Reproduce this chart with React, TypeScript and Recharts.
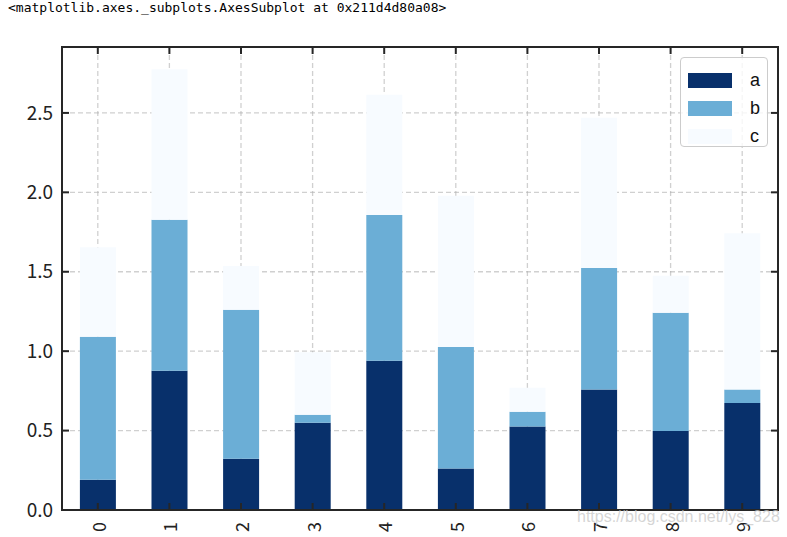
import React from "react";
import { BarChart, Bar, XAxis, YAxis, CartesianGrid, Legend, ReferenceArea } from "recharts";

const categories = ["0", "1", "2", "3", "4", "5", "6", "7", "8", "9"];
const seriesA = [0.19, 0.877, 0.322, 0.55, 0.94, 0.261, 0.525, 0.758, 0.498, 0.674];
const seriesB = [0.9, 0.95, 0.939, 0.049, 0.917, 0.765, 0.094, 0.765, 0.744, 0.084];
const seriesC = [0.565, 0.948, 0.275, 0.394, 0.758, 0.952, 0.151, 0.946, 0.233, 0.985];
const yTicks = [0, 0.5, 1, 1.5, 2, 2.5];
const yMax = 2.915;

const seriesKeys = ["a", "b", "c"];
const seriesColors = ["#08306b", "#6baed6", "#f7fbff"];

const data = categories.map((name, i) => ({
  name,
  a: seriesA[i],
  b: seriesB[i],
  c: seriesC[i],
}));

const labelFont = "'Noto Sans CJK SC', 'DejaVu Sans', sans-serif";
const frame = "#262626";

const XTick = (props: any) => {
  const { x, y, payload } = props;
  return (
    <text
      x={x}
      y={y}
      transform={`rotate(-90, ${x}, ${y})`}
      textAnchor="end"
      dominantBaseline="central"
      fontSize={18}
      fontFamily={labelFont}
      fill="#222"
    >
      {payload.value}
    </text>
  );
};

// tick={false} also drops the tick lines, so an empty label is used instead
const NoTick = () => <g />;

const LegendBox = () => (
  <div
    style={{
      width: 88,
      height: 90,
      boxSizing: "border-box",
      border: "1px solid #cccccc",
      borderRadius: 4,
      background: "rgba(255,255,255,0.8)",
      paddingTop: 8,
      fontFamily: "'Liberation Sans', Arial, sans-serif",
      fontSize: 18,
      color: "#111",
    }}
  >
    {seriesKeys.map((k, i) => (
      <div
        key={k}
        style={{ display: "flex", alignItems: "center", height: 28 }}
      >
        <div
          style={{
            marginLeft: 7,
            width: 44,
            height: 15,
            background: seriesColors[i],
          }}
        />
        <span style={{ marginLeft: 18 }}>{k}</span>
      </div>
    ))}
  </div>
);

export default function App() {
  return (
    <div
      style={{
        position: "absolute",
        left: 0,
        top: 0,
        width: 787,
        height: 537,
        background: "#fff",
      }}
    >
      <div
        style={{
          position: "absolute",
          left: 8,
          top: 0,
          fontFamily: "'DejaVu Sans Mono', 'Liberation Mono', monospace",
          fontSize: 13,
          lineHeight: "15px",
          color: "#000",
          whiteSpace: "pre",
        }}
      >
        {"<matplotlib.axes._subplots.AxesSubplot at 0x211d4d80a08>"}
      </div>
      <BarChart
        width={787}
        height={537}
        data={data}
        margin={{ top: 46, right: 8, left: 0, bottom: 0 }}
        barCategoryGap="25%"
      >
        {seriesKeys.map((k, i) => (
          <Bar
            key={k}
            dataKey={k}
            stackId="s"
            fill={seriesColors[i]}
            xAxisId="x"
            yAxisId="y"
            isAnimationActive={false}
          />
        ))}
        <CartesianGrid
          xAxisId="x"
          yAxisId="y"
          stroke="#b0b0b0"
          strokeOpacity={0.6}
          strokeWidth={1.3}
          strokeDasharray="5 3"
        />
        <ReferenceArea
          xAxisId="x"
          yAxisId="y"
          y1={0}
          y2={yMax}
          fill="none"
          fillOpacity={0}
          stroke={frame}
          strokeWidth={2}
          ifOverflow="visible"
        />
        <XAxis
          xAxisId="x"
          dataKey="name"
          height={27}
          tickSize={-7}
          tickMargin={19}
          tick={<XTick />}
          interval={0}
          axisLine={{ stroke: frame, strokeWidth: 2 }}
          tickLine={{ stroke: frame, strokeWidth: 2 }}
        />
        <XAxis
          xAxisId="top"
          orientation="top"
          dataKey="name"
          height={1}
          tickSize={-7}
          tick={<NoTick />}
          interval={0}
          axisLine={{ stroke: frame, strokeWidth: 2 }}
          tickLine={{ stroke: frame, strokeWidth: 2 }}
        />
        <YAxis
          yAxisId="y"
          width={62}
          domain={[0, yMax]}
          ticks={yTicks}
          tickFormatter={(v: number) => v.toFixed(1)}
          tickSize={-7}
          tickMargin={16}
          tick={{ fontSize: 19, fontFamily: labelFont, fill: "#222" }}
          axisLine={{ stroke: frame, strokeWidth: 2 }}
          tickLine={{ stroke: frame, strokeWidth: 2 }}
          allowDataOverflow
        />
        <YAxis
          yAxisId="right"
          orientation="right"
          width={1}
          domain={[0, yMax]}
          ticks={yTicks}
          tickSize={-7}
          tick={<NoTick />}
          axisLine={{ stroke: frame, strokeWidth: 2 }}
          tickLine={{ stroke: frame, strokeWidth: 2 }}
          allowDataOverflow
        />
        <Legend
          layout="horizontal"
          verticalAlign="middle"
          align="center"
          content={<LegendBox />}
          wrapperStyle={{ left: 680, top: 57, width: 88, height: 90 }}
        />
      </BarChart>
      <div
        style={{
          position: "absolute",
          left: 577,
          top: 508,
          fontFamily: "'Liberation Sans', Arial, sans-serif",
          fontSize: 16,
          color: "rgba(200,200,200,0.75)",
          whiteSpace: "pre",
          pointerEvents: "none",
        }}
      >
        https://blog.csdn.net/lys_828
      </div>
    </div>
  );
}
